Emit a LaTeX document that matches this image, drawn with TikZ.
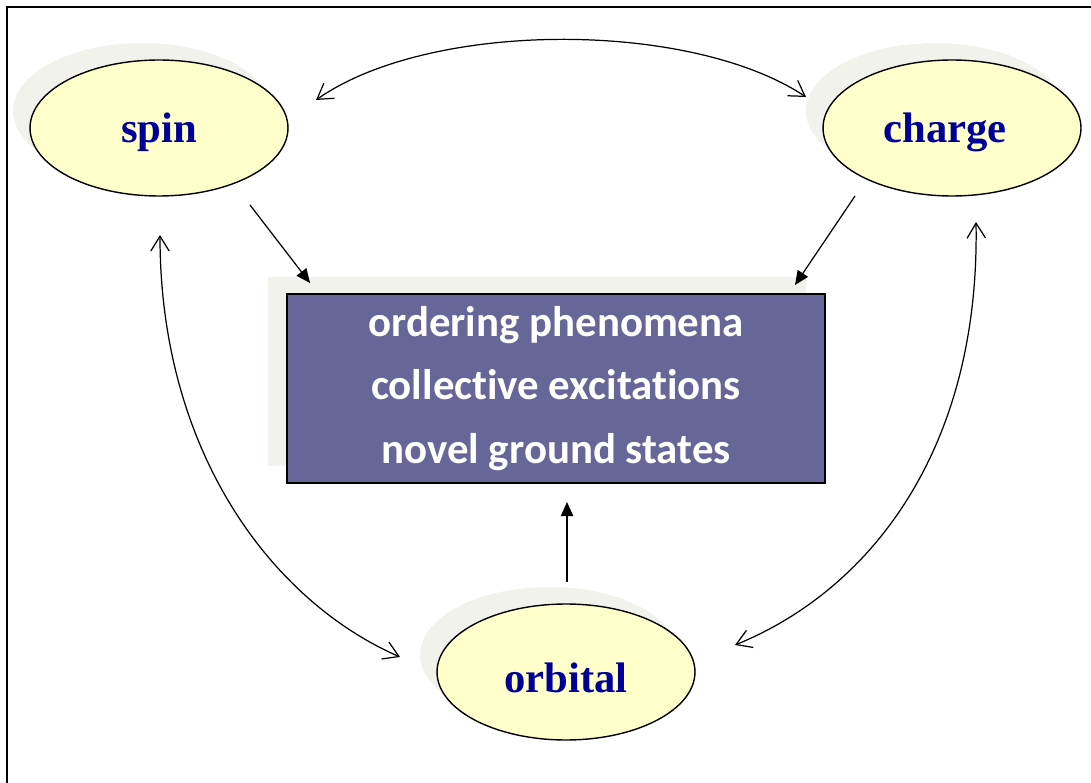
\documentclass[tikz,border=0pt]{standalone}
\usepackage{fontspec}
\setmainfont{Liberation Serif}
\newfontfamily\carl[Ligatures=NoCommon]{Carlito}
\usetikzlibrary{shapes.geometric,arrows.meta,shadows}
\definecolor{ellfill}{HTML}{FFFFCC}
\definecolor{boxfill}{HTML}{666699}
\definecolor{shad}{HTML}{F2F2EC}
\definecolor{txtblue}{HTML}{000099}
\begin{document}
\begin{tikzpicture}[x=0.02cm,y=-0.02cm,
  ell/.style={ellipse, draw=black, line width=0.8pt, fill=ellfill,
    minimum width=5.16cm, minimum height=2.72cm, inner sep=0pt,
    text height=18pt, text depth=1.2pt,
    font=\bfseries\fontsize{24.3}{28}\selectfont, text=txtblue,
    general shadow={shadow xshift=-0.34cm, shadow yshift=0.34cm, fill=shad, draw=none}},
  mainbox/.style={rectangle, draw=black, line width=0.8pt, fill=boxfill,
    minimum width=10.76cm, minimum height=3.78cm, inner sep=0pt,
    text=white, align=center, font=\carl\bfseries\fontsize{24.4}{36}\selectfont,
    general shadow={shadow xshift=-0.38cm, shadow yshift=0.34cm, fill=shad, draw=none}},
  biarrow/.style={line width=0.7pt, {Straight Barb[length=8.5pt,width=10.5pt]}-{Straight Barb[length=8.5pt,width=10.5pt]}},
  onearrow/.style={line width=0.7pt, -{Triangle[length=8pt,width=7pt]}},
  frame/.style={line width=1.1pt}
]
\useasboundingbox (0,0) rectangle (1091,783);
\draw[frame] (7,783) -- (7,7) -- (1091,7);

\node[mainbox] (box) at (556,388.5) {ordering phenomena\\collective excitations\\novel ground states};
\node[ell] (spin) at (159,128) {spin};
\node[ell] (charge) at (952,128) {charge\kern8pt};
\node[ell] (orbital) at (566,672) {\raisebox{-3.4pt}{orbital}};

\draw[biarrow] ([shift={(157,-28)}]spin.center) .. controls (430,20) and (690,20) .. ([shift={(-146,-31)}]charge.center);
\draw[biarrow] ([shift={(1,107)}]spin.center) .. controls (160,450) and (270,600) .. ([shift={(-166,-15)}]orbital.center);
\draw[biarrow] ([shift={(24,94)}]charge.center) .. controls (980,450) and (870,590) .. ([shift={(169,-27)}]orbital.center);

\draw[onearrow] ([shift={(91,77)}]spin.center) -- ([shift={(-246,-105.5)}]box.center);
\draw[onearrow] ([shift={(-97,68)}]charge.center) -- ([shift={(239,-103.5)}]box.center);
\draw[onearrow] ([shift={(1,-90)}]orbital.center) -- ([shift={(11,113.5)}]box.center);
\end{tikzpicture}
\end{document}
